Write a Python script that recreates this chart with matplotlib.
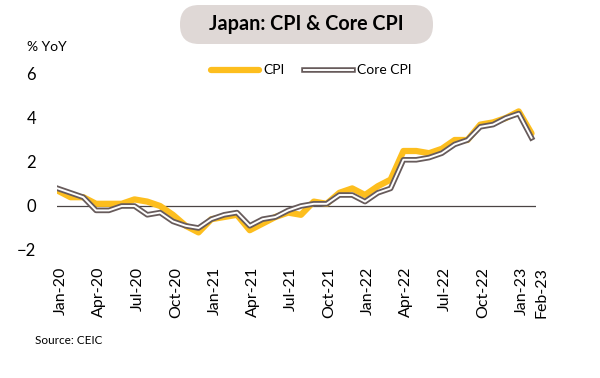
import matplotlib.pyplot as plt
import matplotlib.patheffects as pe
from matplotlib.patches import FancyBboxPatch
from matplotlib.transforms import IdentityTransform, ScaledTranslation

plt.rcParams['font.family'] = ['Lato', 'DejaVu Sans']

# monthly, Jan-20 .. Feb-23
months = ['Jan-20', 'Feb-20', 'Mar-20', 'Apr-20', 'May-20', 'Jun-20', 'Jul-20', 'Aug-20',
          'Sep-20', 'Oct-20', 'Nov-20', 'Dec-20', 'Jan-21', 'Feb-21', 'Mar-21', 'Apr-21',
          'May-21', 'Jun-21', 'Jul-21', 'Aug-21', 'Sep-21', 'Oct-21', 'Nov-21', 'Dec-21',
          'Jan-22', 'Feb-22', 'Mar-22', 'Apr-22', 'May-22', 'Jun-22', 'Jul-22', 'Aug-22',
          'Sep-22', 'Oct-22', 'Nov-22', 'Dec-22', 'Jan-23', 'Feb-23']
cpi = [0.7, 0.4, 0.4, 0.1, 0.1, 0.1, 0.3, 0.2, 0.0, -0.4, -0.9, -1.2,
       -0.6, -0.5, -0.4, -1.1, -0.8, -0.5, -0.3, -0.4, 0.2, 0.1, 0.6, 0.8,
       0.5, 0.9, 1.2, 2.5, 2.5, 2.4, 2.6, 3.0, 3.0, 3.7, 3.8, 4.0, 4.3, 3.3]
core = [0.8, 0.6, 0.4, -0.2, -0.2, 0.0, 0.0, -0.4, -0.3, -0.7, -0.9, -1.0,
        -0.6, -0.4, -0.3, -0.9, -0.6, -0.5, -0.2, 0.0, 0.1, 0.1, 0.5, 0.5,
        0.2, 0.6, 0.8, 2.1, 2.1, 2.2, 2.4, 2.8, 3.0, 3.6, 3.7, 4.0, 4.2, 3.1]
tick_labels = ['Jan-20', 'Apr-20', 'Jul-20', 'Oct-20', 'Jan-21', 'Apr-21', 'Jul-21',
               'Oct-21', 'Jan-22', 'Apr-22', 'Jul-22', 'Oct-22', 'Jan-23', 'Feb-23']

x = list(range(len(months)))
tick_pos = [months.index(m) for m in tick_labels]

fig = plt.figure(figsize=(6, 3.78), dpi=100)
ax = fig.add_axes([57 / 600, 1 - 250 / 378, 479 / 600, 176 / 378])

ax.axhline(0, color='#4a4444', lw=0.9, zorder=1)
ax.plot(x, cpi, color='#FDBE1E', lw=4.5, solid_capstyle='round', label='CPI', zorder=2)
ax.plot(x, core, color='white', lw=1.4, label='Core CPI', zorder=3,
        path_effects=[pe.withStroke(linewidth=4.0, foreground='#675b5b')])

ax.set_xlim(-0.05, 37.35)
ax.set_ylim(-2, 6)
ax.set_yticks([-2, 0, 2, 4, 6])
ax.set_xticks(tick_pos)
ax.set_xticklabels(tick_labels, rotation=90, fontsize=11.5)
ax.tick_params(axis='y', labelsize=12, length=0, pad=15)
ax.tick_params(axis='x', length=0, pad=12)
for s in ax.spines.values():
    s.set_visible(False)

# nudge labels right a little, Feb-23 a bit more so it clears Jan-23
for lab in ax.get_xticklabels():
    dx = 10 if lab.get_text() == 'Feb-23' else 3
    lab.set_transform(lab.get_transform() + ScaledTranslation(dx / 100, 0, fig.dpi_scale_trans))

ax.legend(loc='upper center', bbox_to_anchor=(311 / 600, 1 - 52 / 378),
          bbox_transform=fig.transFigure, ncol=2, frameon=False, fontsize=10,
          handlelength=3.5, handletextpad=0.3, columnspacing=1.4)

fig.text(27 / 600, 1 - 47 / 378, '% YoY', fontsize=10, va='center', ha='left')
fig.text(35 / 600, 1 - 341 / 378, 'Source: CEIC', fontsize=8.5, va='center', ha='left')

box = FancyBboxPatch((180, 378 - 44), 253, 39, boxstyle='round,pad=0,rounding_size=19',
                     transform=IdentityTransform(), facecolor='#DFD8D6', edgecolor='none')
fig.patches.append(box)
fig.text(306 / 600, 1 - 24 / 378, 'Japan: CPI & Core CPI', fontsize=14.2, fontweight='bold',
         ha='center', va='center')

fig.savefig('out.png', dpi=100)
